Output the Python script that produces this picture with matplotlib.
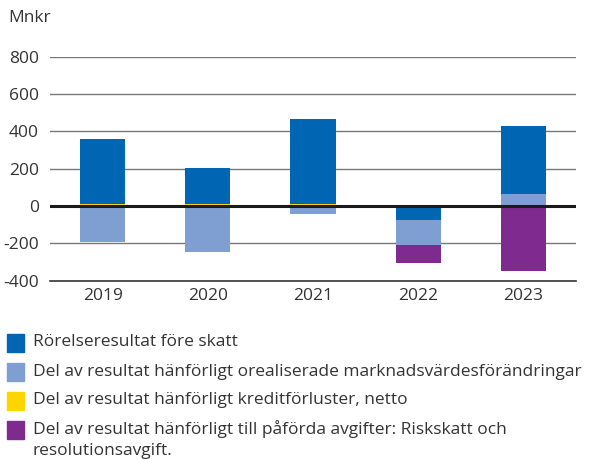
import matplotlib
matplotlib.use("Agg")
import matplotlib.pyplot as plt
from matplotlib.patches import Rectangle
import numpy as np

plt.rcParams['font.family'] = ['Open Sans', 'DejaVu Sans']

years = ["2019", "2020", "2021", "2022", "2023"]
rorelse = [345, 190, 454, -67, 369]        # Rörelseresultat före skatt
orealiserade = [-195, -246, -43, -134, 62] # orealiserade marknadsvärdesförändringar
kredit = [12, 12, 12, -10, 0]              # kreditförluster, netto
avgifter = [0, 0, 0, -94, -349]            # påförda avgifter

labels = ["Rörelseresultat före skatt",
          "Del av resultat hänförligt orealiserade marknadsvärdesförändringar",
          "Del av resultat hänförligt kreditförluster, netto",
          "Del av resultat hänförligt till påförda avgifter: Riskskatt och\nresolutionsavgift."]
colors = ["#0066b3", "#7f9fd3", "#ffd500", "#7f2a8f"]
yticks = [-400, -200, 0, 200, 400, 600, 800]

series = {"rorelse": rorelse, "orealiserade": orealiserade, "kredit": kredit, "avgifter": avgifter}
col = {"rorelse": colors[0], "orealiserade": colors[1], "kredit": colors[2], "avgifter": colors[3]}
pos_order = ["kredit", "orealiserade", "rorelse", "avgifter"]
neg_order = ["kredit", "rorelse", "orealiserade", "avgifter"]

FS = 12.5
fig = plt.figure(figsize=(5.91, 4.59), dpi=100)
W, H = 591, 459
ax = fig.add_axes([50 / W, 1 - 280.7 / H, (576 - 50) / W, (280.7 - 56.7) / H])

x = np.arange(len(years))
width = 0.43
pos_base = np.zeros(len(years))
neg_base = np.zeros(len(years))
for name in pos_order:
    v = np.array(series[name], dtype=float)
    vp = np.where(v > 0, v, 0)
    ax.bar(x, vp, width, bottom=pos_base, color=col[name], zorder=2, linewidth=0)
    pos_base += vp
for name in neg_order:
    v = np.array(series[name], dtype=float)
    vn = np.where(v < 0, v, 0)
    ax.bar(x, vn, width, bottom=neg_base, color=col[name], zorder=2, linewidth=0)
    neg_base += vn

ax.set_xlim(-0.5, len(years) - 0.5)
ax.set_ylim(-400, 800)
ax.set_yticks(yticks)
ax.set_yticklabels([str(t) for t in yticks])
ax.set_xticks(x)
ax.set_xticklabels(years)
for t in yticks:
    if t == 0:
        ax.axhline(0, color="#1a1a1a", lw=2.2, zorder=3)
    elif t != -400:
        ax.axhline(t, color="#777777", lw=1.0, zorder=1)
for s in ["top", "right", "left"]:
    ax.spines[s].set_visible(False)
ax.spines["bottom"].set_color("#333333")
ax.spines["bottom"].set_linewidth(1.2)
ax.tick_params(axis="both", length=0, labelsize=FS, colors="#333333", pad=5)
ax.tick_params(axis="y", pad=8)

fig.text(8 / W, 1 - 18 / H, "Mnkr", fontsize=FS, color="#333333", va="center", ha="left")

rows = [342.5, 371.5, 400.5, 429.5]
for yc, lab, c in zip(rows, labels, colors):
    fig.patches.append(Rectangle((7 / W, 1 - (yc + 9) / H), 17 / W, 18 / H,
                                 transform=fig.transFigure, color=c, figure=fig))
    for i, line in enumerate(lab.split("\n")):
        fig.text(33 / W, 1 - (yc + i * 21.5) / H, line, fontsize=FS, color="#333333",
                 va="center", ha="left")

fig.savefig("out.png", dpi=100)
